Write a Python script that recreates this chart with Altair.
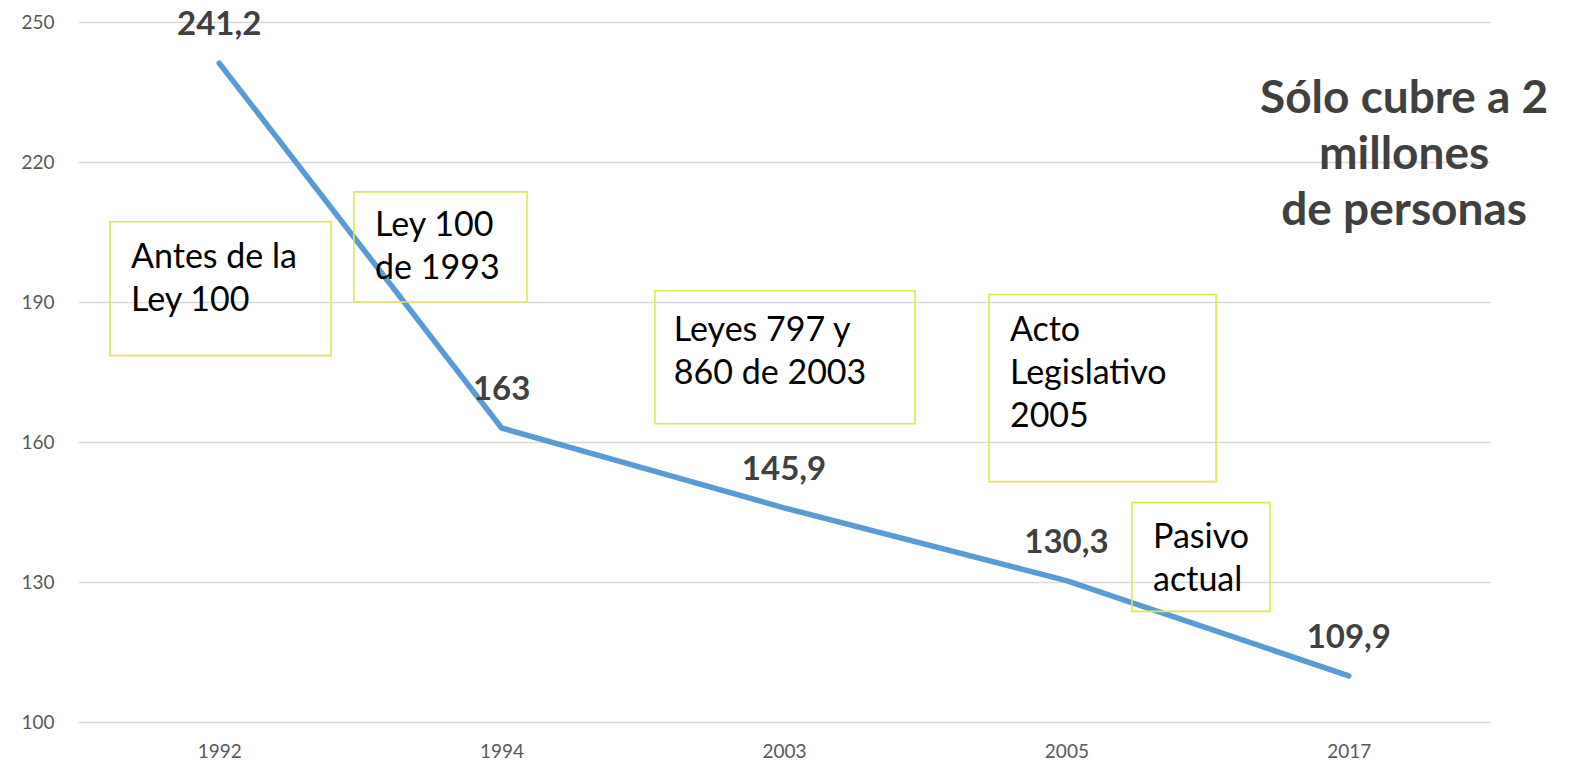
import altair as alt
import pandas as pd

# ---- data ----
years = ["1992", "1994", "2003", "2005", "2017"]
values = [241.2, 163.0, 145.9, 130.3, 109.9]
value_labels = ["241,2", "163", "145,9", "130,3", "109,9"]

# annotation boxes (x in category-index units, y in data units)
box_texts = ["Antes de la\nLey 100", "Ley 100\nde 1993", "Leyes 797 y\n860 de 2003",
             "Acto\nLegislativo\n2005", "Pasivo\nactual"]
box_x1 = [-0.387, 0.477, 1.543, 2.726, 3.232]
box_x2 = [0.396, 1.090, 2.464, 3.530, 3.721]
box_y1 = [207.2, 213.6, 192.4, 191.6, 147.0]
box_y2 = [178.5, 190.0, 163.9, 151.5, 123.7]
text_x = [-0.312, 0.552, 1.610, 2.800, 3.307]
text_y = [197.2, 204.2, 181.6, 181.6, 137.3]

title_text = "Sólo cubre a 2\nmillones\nde personas"
title_x = [4.196]
title_y = [230.6]

df = pd.DataFrame({"idx": list(range(len(years))), "year": years,
                   "value": values, "label": value_labels})
boxes = pd.DataFrame({"x1": box_x1, "x2": box_x2, "y1": box_y1, "y2": box_y2,
                      "tx": text_x, "ty": text_y, "text": box_texts})
tdf = pd.DataFrame({"x": title_x, "y": title_y, "text": [title_text]})

label_expr = "[" + ",".join(f"'{y}'" for y in years) + "][datum.value]"

xscale = alt.Scale(domain=[-0.5, 4.5], nice=False, zero=False)
yscale = alt.Scale(domain=[100, 250], nice=False, zero=False)

x_axis = alt.Axis(values=list(range(len(years))), labelExpr=label_expr, title=None,
                  grid=False, ticks=False, domain=False, labelFont="Lato",
                  labelFontSize=19, labelColor="#595959", labelPadding=20)
y_axis = alt.Axis(values=[100, 130, 160, 190, 220, 250], title=None, grid=True,
                  gridColor="#D9D9D9", gridWidth=1.3, ticks=False, domain=False,
                  labelFont="Lato", labelFontSize=19, labelColor="#595959",
                  labelPadding=24)

base = alt.Chart(df)

line = base.mark_line(color="#5B9BD5", strokeWidth=5.5, strokeCap="round",
                      strokeJoin="round").encode(
    x=alt.X("idx:Q", scale=xscale, axis=x_axis),
    y=alt.Y("value:Q", scale=yscale, axis=y_axis),
)

labels = base.mark_text(font="Lato", fontWeight="bold", fontSize=33,
                        color="#404040", dy=-28, baseline="alphabetic",
                        align="center").encode(
    x=alt.X("idx:Q", scale=xscale, axis=x_axis),
    y=alt.Y("value:Q", scale=yscale, axis=y_axis),
    text="label:N",
)

rects = alt.Chart(boxes).mark_rect(fill="transparent", stroke="#E2E84B",
                                   strokeWidth=1.6).encode(
    x=alt.X("x1:Q", scale=xscale, axis=x_axis), x2="x2:Q",
    y=alt.Y("y1:Q", scale=yscale, axis=y_axis), y2="y2:Q",
)

box_text = alt.Chart(boxes).mark_text(font="Lato", fontSize=34, color="#000000",
                                      align="left", baseline="alphabetic",
                                      lineBreak="\n", lineHeight=43).encode(
    x=alt.X("tx:Q", scale=xscale, axis=x_axis),
    y=alt.Y("ty:Q", scale=yscale, axis=y_axis),
    text="text:N",
)

title = alt.Chart(tdf).mark_text(font="Lato", fontWeight="bold", fontSize=46,
                                 color="#404040", align="center",
                                 baseline="alphabetic", lineBreak="\n",
                                 lineHeight=56).encode(
    x=alt.X("x:Q", scale=xscale, axis=x_axis),
    y=alt.Y("y:Q", scale=yscale, axis=y_axis),
    text="text:N",
)

chart = alt.layer(line, rects, box_text, labels, title).properties(
    width=1412, height=700,
    autosize=alt.AutoSizeParams(type="none"),
    padding={"left": 70, "top": 14, "right": 90, "bottom": 44},
).configure_view(stroke=None)

chart.save("out.html", embed_options={"renderer": "svg", "actions": False})
